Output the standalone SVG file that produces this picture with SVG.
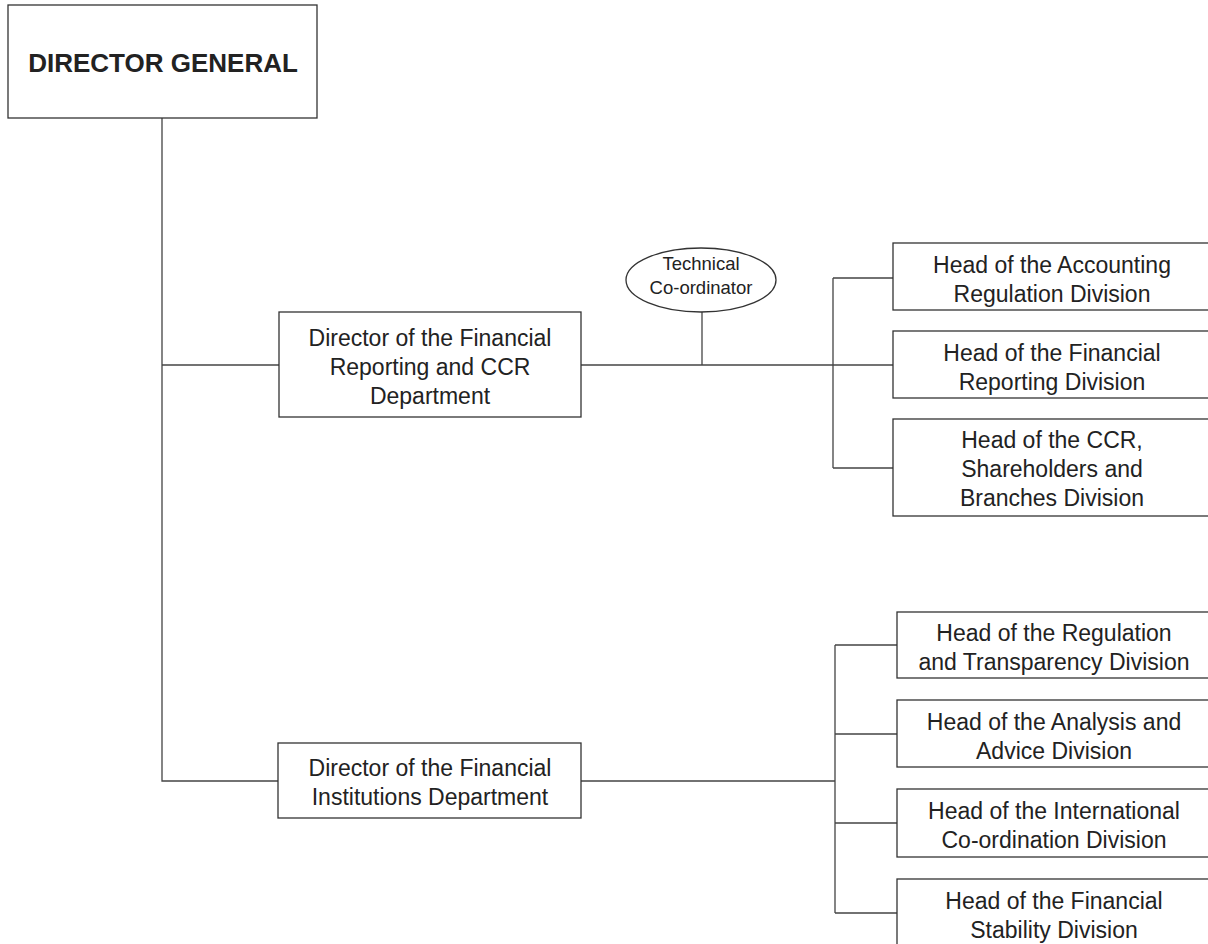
<svg xmlns="http://www.w3.org/2000/svg" width="1208" height="944" viewBox="0 0 1208 944">
<style>
.box{fill:#fff;stroke:#333;stroke-width:1.3}
.ln{fill:none;stroke:#444;stroke-width:1.3}
text{font-family:"Liberation Sans",Arial,sans-serif;font-size:23px;fill:#222;text-anchor:middle}
.b{font-weight:bold;font-size:26px}
.s{font-size:18.5px}
</style>
<rect width="1208" height="944" fill="#fff"/>
<g id="connectors">
<path class="ln" d="M162 118V781H278"/>
<path class="ln" d="M162 365H279"/>
<path class="ln" d="M581 365H893"/>
<path class="ln" d="M702 312V365"/>
<path class="ln" d="M833 278V468M833 278H893M833 468H893"/>
<path class="ln" d="M581 781H835M835 645V913M835 645H897M835 734H897M835 823H897M835 913H897"/>
</g>
<g id="dg"><rect class="box" x="8" y="5" width="309" height="113"/><text class="b" x="163" y="72">DIRECTOR GENERAL</text></g>
<g id="frccr"><rect class="box" x="279" y="312" width="302" height="105"/><text x="430" y="346">Director of the Financial</text><text x="430" y="375">Reporting and CCR</text><text x="430" y="404">Department</text></g>
<g id="tc"><ellipse class="box" cx="701" cy="280" rx="75" ry="32"/><text class="s" x="701" y="270">Technical</text><text class="s" x="701" y="294">Co-ordinator</text></g>
<g id="ard"><rect class="box" x="893" y="243" width="320" height="67"/><text x="1052" y="273">Head of the Accounting</text><text x="1052" y="302">Regulation Division</text></g>
<g id="frd"><rect class="box" x="893" y="331" width="320" height="67"/><text x="1052" y="361">Head of the Financial</text><text x="1052" y="390">Reporting Division</text></g>
<g id="ccr"><rect class="box" x="893" y="419" width="320" height="97"/><text x="1052" y="448">Head of the CCR,</text><text x="1052" y="477">Shareholders and</text><text x="1052" y="506">Branches Division</text></g>
<g id="fid"><rect class="box" x="278" y="743" width="303" height="75"/><text x="430" y="776">Director of the Financial</text><text x="430" y="805">Institutions Department</text></g>
<g id="rtd"><rect class="box" x="897" y="612" width="316" height="66"/><text x="1054" y="641">Head of the Regulation</text><text x="1054" y="670">and Transparency Division</text></g>
<g id="aad"><rect class="box" x="897" y="700" width="316" height="67"/><text x="1054" y="730">Head of the Analysis and</text><text x="1054" y="759">Advice Division</text></g>
<g id="icd"><rect class="box" x="897" y="789" width="316" height="68"/><text x="1054" y="819">Head of the International</text><text x="1054" y="848">Co-ordination Division</text></g>
<g id="fsd"><rect class="box" x="897" y="879" width="316" height="68"/><text x="1054" y="909">Head of the Financial</text><text x="1054" y="938">Stability Division</text></g>
</svg>
